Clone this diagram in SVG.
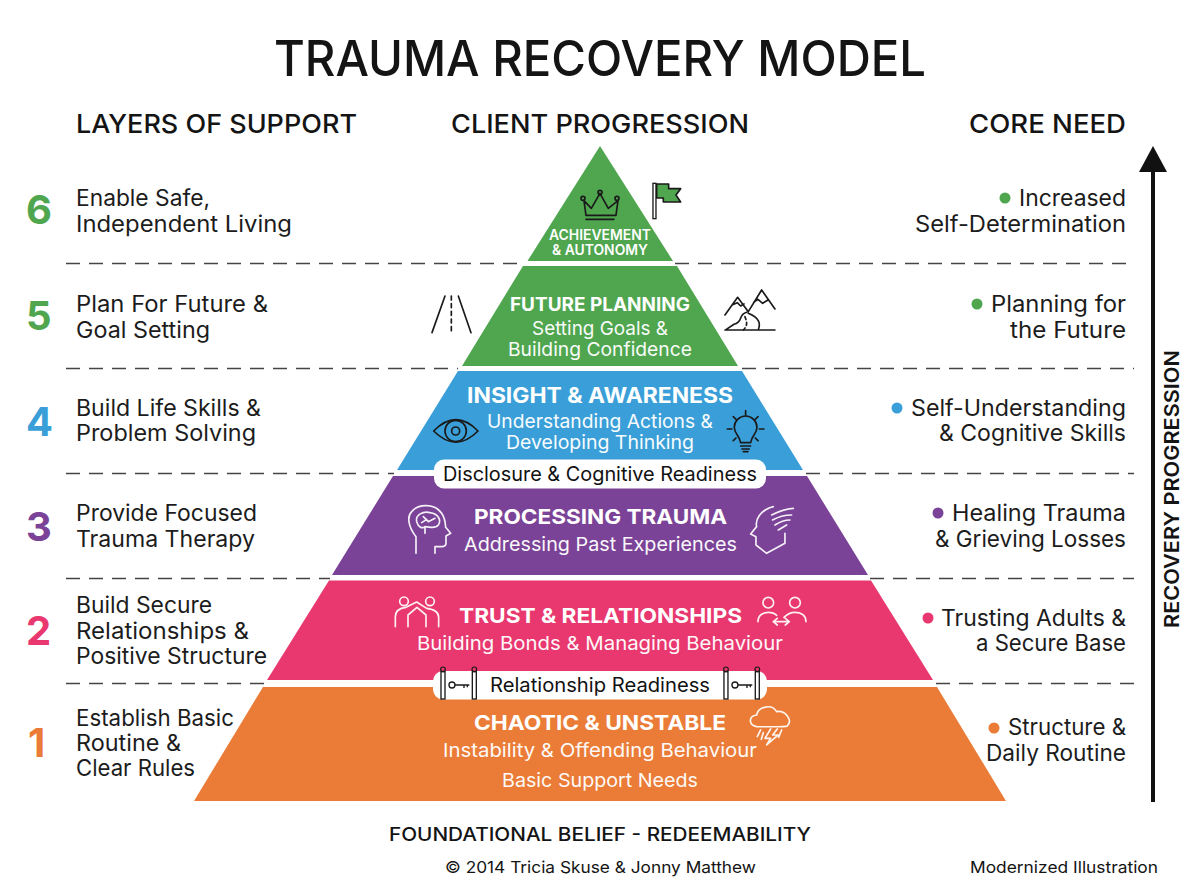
<svg xmlns="http://www.w3.org/2000/svg" width="1200" height="896" viewBox="0 0 1200 896">
<style>
text{font-family:"Inter","Open Sans","Liberation Sans",sans-serif;fill:#141414}
.h{font-size:26px;font-weight:500}
.l{font-size:22.5px;font-weight:400;fill:#1c1c1c}
.n{font-size:40px;font-weight:700}
.w{fill:#fff;font-size:19px;font-weight:400;opacity:.96}
.b{fill:#fff;font-weight:700;font-size:20.5px}
.p{font-size:19.5px;font-weight:400;fill:#111}
.d{stroke:#444;stroke-width:1.5;stroke-dasharray:14 9;fill:none}
.ic{fill:none;stroke:#1a1a1a;stroke-width:5;stroke-linecap:round;stroke-linejoin:round}
.iw{fill:none;stroke:#fff;stroke-width:5;stroke-linecap:round;stroke-linejoin:round;opacity:.92}
</style>
<defs>
<marker id="ah" viewBox="0 0 26 26" refX="13" refY="2" markerWidth="26" markerHeight="26" markerUnits="userSpaceOnUse" orient="auto-start-reverse"><path d="M13 0L26 26H0Z" fill="#111"/></marker>
</defs>
<rect width="1200" height="896" fill="#fff"/>
<g id="title">
<text x="274" y="76" font-size="50" font-weight="500" textLength="652" lengthAdjust="spacingAndGlyphs">TRAUMA RECOVERY MODEL</text>
<text class="h" x="76" y="133" textLength="281" lengthAdjust="spacingAndGlyphs">LAYERS OF SUPPORT</text>
<text class="h" x="451" y="133" textLength="298" lengthAdjust="spacingAndGlyphs">CLIENT PROGRESSION</text>
<text class="h" x="969" y="133" textLength="157" lengthAdjust="spacingAndGlyphs">CORE NEED</text>
</g>
<g id="connectors">
<path class="d" d="M66 263.500H526M675 263.500H1134M66 368.500H458M742 368.500H1134M66 473.500H394M806 473.500H1134M66 578.500H330M870 578.500H1134M66 683.500H264M936 683.500H1134"/>
<line x1="1153" y1="802" x2="1153" y2="170" stroke="#111" stroke-width="4"/>
<path d="M1153 146L1167 172H1139Z" fill="#111"/>
<text transform="translate(1179,628) rotate(-90)" font-size="20" font-weight="600" textLength="278" lengthAdjust="spacingAndGlyphs">RECOVERY PROGRESSION</text>
</g>
<g id="tier6">
<path d="M600 146L673 261H527.500Z" fill="#4fa64f"/>
<g transform="translate(400,140) scale(.3333)">
<path class="ic" d="M552 182L558 226H648L654 182L625 205L600 160L574 205ZM558 238H642"/>
<circle class="ic" cx="549" cy="175" r="6"/><circle class="ic" cx="600" cy="157" r="6"/><circle class="ic" cx="651" cy="175" r="6"/>
<path d="M770 132H806V146H842L828 165L842 186H790V174H770Z" fill="#4fa64f" stroke="#1a1a1a" stroke-width="5" stroke-linejoin="round"/>
<rect x="759" y="130" width="9" height="106" fill="#fff" stroke="#1a1a1a" stroke-width="4"/>
</g>
<text class="b" style="font-size:14px;font-weight:600" x="549" y="240" textLength="102" lengthAdjust="spacingAndGlyphs">ACHIEVEMENT</text>
<text class="b" style="font-size:14px;font-weight:600" x="552" y="255" textLength="96" lengthAdjust="spacingAndGlyphs">&amp; AUTONOMY</text>
</g>
<g id="tier5">
<path d="M523 266H677L738 366H462Z" fill="#4fa64f"/>
<g transform="translate(400,140) scale(.3333)">
<path class="ic" d="M135 468L96 578M175 468L213 578"/>
<path class="ic" stroke-dasharray="12 11" stroke-linecap="butt" d="M154 468V578"/>
<path class="ic" d="M975 525L1013 472L1045 515L1085 450L1125 507M998 494L1012 488L1022 498L1032 492M1062 486L1074 478L1088 490L1104 480M975 570H1125M1040 517C1012 525 1032 545 1002 553L978 569M1045 520C1080 535 1082 550 1075 570"/>
<path class="ic" stroke-dasharray="9 9" stroke-width="4" d="M1035 530C1040 545 1045 555 1030 570"/>
</g>
<text class="b" style="font-size:18.500px" x="510" y="311" textLength="180" lengthAdjust="spacingAndGlyphs">FUTURE PLANNING</text>
<text class="w" x="532" y="335" textLength="136" lengthAdjust="spacingAndGlyphs">Setting Goals &amp;</text>
<text class="w" x="508" y="356" textLength="184" lengthAdjust="spacingAndGlyphs">Building Confidence</text>
</g>
<g id="tier4">
<path d="M458 371H742L803 470H397Z" fill="#3a9fd8"/>
<g transform="translate(380,370) scale(.3333)">
<path class="ic" d="M161 183Q228 115 294 183Q228 250 161 183Z"/>
<circle class="ic" cx="227" cy="183" r="32"/><circle class="ic" cx="227" cy="183" r="12"/>
<path class="ic" d="M1082 218C1078 195 1063 192 1063 172A34 34 0 0 1 1131 172C1131 192 1116 195 1112 218ZM1082 228H1112M1086 237H1108M1090 245H1104M1097 122V138M1060 140L1070 150M1134 140L1124 150M1042 177H1056M1138 177H1152M1060 212L1068 204M1134 212L1126 204"/>
</g>
<text class="b" x="467" y="403" style="font-size:21px" textLength="266" lengthAdjust="spacingAndGlyphs">INSIGHT &amp; AWARENESS</text>
<text class="w" x="487" y="428" textLength="226" lengthAdjust="spacingAndGlyphs">Understanding Actions &amp;</text>
<text class="w" x="506" y="449" textLength="188" lengthAdjust="spacingAndGlyphs">Developing Thinking</text>
</g>
<g id="tier3">
<path d="M393 476H807L868 575H332Z" fill="#7b4397"/>
<g transform="translate(380,370) scale(.3333)">
<path class="iw" d="M108 550V500C85 470 80 440 95 425C115 400 165 400 185 430C197 448 196 465 197 472L212 490L198 498V520C198 532 185 530 165 530V550"/>
<path class="iw" stroke-width="3.500" d="M110 455C105 435 130 422 150 428C175 432 185 450 175 465C165 478 150 470 135 470C125 478 115 470 110 455ZM130 440L145 455L165 445M125 458L140 448M135 470V490"/>
<path class="iw" d="M1180 410C1140 420 1125 450 1130 470L1112 492L1128 500V525L1160 550L1215 520V490"/>
<path class="iw" stroke-width="3.500" d="M1175 435C1195 425 1215 415 1240 415M1178 450C1195 440 1215 435 1235 435M1185 465C1200 455 1215 450 1230 450M1195 480L1220 465"/>
</g>
<text class="b" x="474" y="524" textLength="253" lengthAdjust="spacingAndGlyphs">PROCESSING TRAUMA</text>
<text class="w" x="464" y="551" textLength="273" lengthAdjust="spacingAndGlyphs">Addressing Past Experiences</text>
</g>
<g id="tier2">
<path d="M329 580.500H871L933 680H267Z" fill="#e8386f"/>
<g transform="translate(380,580) scale(.3333)">
<circle class="iw" cx="72" cy="64" r="13"/><circle class="iw" cx="150" cy="64" r="13"/>
<path class="iw" d="M46 140V110C46 92 60 84 78 82L110 66L140 85C165 88 176 98 176 112V140M84 140V105L111 82L138 105V140"/>
<circle class="iw" cx="1165" cy="68" r="16"/><circle class="iw" cx="1245" cy="68" r="16"/>
<path class="iw" d="M1134 125C1134 105 1150 97 1165 97C1175 97 1184 100 1190 106M1278 125C1278 105 1262 97 1245 97C1232 97 1222 102 1212 112M1182 125H1226M1192 115L1180 125L1192 135M1216 115L1228 125L1216 135"/>
</g>
<text class="b" x="459" y="623" textLength="283" lengthAdjust="spacingAndGlyphs">TRUST &amp; RELATIONSHIPS</text>
<text class="w" x="417" y="650" textLength="366" lengthAdjust="spacingAndGlyphs">Building Bonds &amp; Managing Behaviour</text>
</g>
<g id="tier1">
<path d="M263 687H937L1006 801H194Z" fill="#ea7c37"/>
<g transform="translate(380,580) scale(.3333)">
<path class="iw" d="M1130 440C1105 435 1105 408 1130 405C1135 380 1175 370 1190 395C1215 390 1240 420 1222 438C1215 442 1150 440 1130 440Z"/>
<path class="iw" stroke-width="4" d="M1172 447L1155 475H1172L1160 495L1195 465H1178L1192 447M1142 450L1132 470M1150 458L1144 478M1205 450L1196 472"/>
</g>
<text class="b" x="474" y="730" textLength="252" lengthAdjust="spacingAndGlyphs">CHAOTIC &amp; UNSTABLE</text>
<text class="w" x="443" y="757" textLength="314" lengthAdjust="spacingAndGlyphs">Instability &amp; Offending Behaviour</text>
<text class="w" x="502" y="787" textLength="196" lengthAdjust="spacingAndGlyphs">Basic Support Needs</text>
</g>
<g id="gate-disclosure">
<rect x="434" y="459.500" width="332" height="29" rx="10" fill="#fff"/>
<text class="p" x="443" y="481" textLength="314" lengthAdjust="spacingAndGlyphs">Disclosure &amp; Cognitive Readiness</text>
</g>
<g id="gate-relationship">
<rect x="433" y="671" width="334" height="28.500" rx="10" fill="#fff"/>
<text class="p" x="490" y="692" textLength="220" lengthAdjust="spacingAndGlyphs">Relationship Readiness</text>
<g transform="translate(380,580) scale(.3333)">
<g id="key">
<rect x="183" y="275" width="12" height="82" fill="#fff" stroke="#1a1a1a" stroke-width="4"/>
<rect x="277" y="275" width="12" height="82" fill="#fff" stroke="#1a1a1a" stroke-width="4"/>
<circle cx="189" cy="268" r="7" fill="#e8386f" stroke="#1a1a1a" stroke-width="3.500"/>
<circle cx="283" cy="268" r="7" fill="#e8386f" stroke="#1a1a1a" stroke-width="3.500"/>
<circle cx="216" cy="315" r="9" fill="none" stroke="#1a1a1a" stroke-width="4"/>
<path d="M225 315H268M252 315V324M262 315V322" fill="none" stroke="#1a1a1a" stroke-width="4"/>
</g>
<g transform="translate(849,0)">
<rect x="183" y="275" width="12" height="82" fill="#fff" stroke="#1a1a1a" stroke-width="4"/>
<rect x="277" y="275" width="12" height="82" fill="#fff" stroke="#1a1a1a" stroke-width="4"/>
<circle cx="189" cy="268" r="7" fill="#e8386f" stroke="#1a1a1a" stroke-width="3.500"/>
<circle cx="283" cy="268" r="7" fill="#e8386f" stroke="#1a1a1a" stroke-width="3.500"/>
<circle cx="216" cy="315" r="9" fill="none" stroke="#1a1a1a" stroke-width="4"/>
<path d="M225 315H268M252 315V324M262 315V322" fill="none" stroke="#1a1a1a" stroke-width="4"/>
</g>
</g>
</g>
<g id="layers">
<g id="layer6"><text class="n" x="26" y="224" fill="#4fa64f" style="fill:#4fa64f">6</text>
<text class="l" x="76" y="206" textLength="134" lengthAdjust="spacingAndGlyphs">Enable Safe,</text><text class="l" x="76" y="232" textLength="216" lengthAdjust="spacingAndGlyphs">Independent Living</text></g>
<g id="layer5"><text class="n" x="26" y="330" style="fill:#4fa64f">5</text>
<text class="l" x="76" y="312" textLength="192" lengthAdjust="spacingAndGlyphs">Plan For Future &amp;</text><text class="l" x="76" y="338" textLength="134" lengthAdjust="spacingAndGlyphs">Goal Setting</text></g>
<g id="layer4"><text class="n" x="26" y="436" style="fill:#3a9fd8">4</text>
<text class="l" x="76" y="416" textLength="185" lengthAdjust="spacingAndGlyphs">Build Life Skills &amp;</text><text class="l" x="76" y="441" textLength="180" lengthAdjust="spacingAndGlyphs">Problem Solving</text></g>
<g id="layer3"><text class="n" x="26" y="541" style="fill:#7b4397">3</text>
<text class="l" x="76" y="521" textLength="181" lengthAdjust="spacingAndGlyphs">Provide Focused</text><text class="l" x="76" y="547" textLength="179" lengthAdjust="spacingAndGlyphs">Trauma Therapy</text></g>
<g id="layer2"><text class="n" x="26" y="645" style="fill:#e8386f">2</text>
<text class="l" x="76" y="613" textLength="136" lengthAdjust="spacingAndGlyphs">Build Secure</text><text class="l" x="76" y="639" textLength="173" lengthAdjust="spacingAndGlyphs">Relationships &amp;</text><text class="l" x="76" y="664" textLength="191" lengthAdjust="spacingAndGlyphs">Positive Structure</text></g>
<g id="layer1"><text class="n" x="28" y="757" style="fill:#ea7c37">1</text>
<text class="l" x="76" y="726" textLength="158" lengthAdjust="spacingAndGlyphs">Establish Basic</text><text class="l" x="76" y="751" textLength="105" lengthAdjust="spacingAndGlyphs">Routine &amp;</text><text class="l" x="76" y="776" textLength="119" lengthAdjust="spacingAndGlyphs">Clear Rules</text></g>
</g>
<g id="needs">
<g id="need6"><circle cx="1005" cy="198" r="5.500" fill="#4fa64f"/><text class="l" x="1019" y="206" textLength="107" lengthAdjust="spacingAndGlyphs">Increased</text><text class="l" x="915" y="232" textLength="211" lengthAdjust="spacingAndGlyphs">Self-Determination</text></g>
<g id="need5"><circle cx="977" cy="304" r="5.500" fill="#4fa64f"/><text class="l" x="991" y="312" textLength="135" lengthAdjust="spacingAndGlyphs">Planning for</text><text class="l" x="1010" y="338" textLength="116" lengthAdjust="spacingAndGlyphs">the Future</text></g>
<g id="need4"><circle cx="897" cy="408" r="5.500" fill="#3a9fd8"/><text class="l" x="911" y="416" textLength="215" lengthAdjust="spacingAndGlyphs">Self-Understanding</text><text class="l" x="939" y="441" textLength="187" lengthAdjust="spacingAndGlyphs">&amp; Cognitive Skills</text></g>
<g id="need3"><circle cx="938" cy="513" r="5.500" fill="#7b4397"/><text class="l" x="952" y="521" textLength="174" lengthAdjust="spacingAndGlyphs">Healing Trauma</text><text class="l" x="935" y="547" textLength="191" lengthAdjust="spacingAndGlyphs">&amp; Grieving Losses</text></g>
<g id="need2"><circle cx="928" cy="618" r="5.500" fill="#e8386f"/><text class="l" x="941" y="626" textLength="185" lengthAdjust="spacingAndGlyphs">Trusting Adults &amp;</text><text class="l" x="976" y="651" textLength="150" lengthAdjust="spacingAndGlyphs">a Secure Base</text></g>
<g id="need1"><circle cx="994" cy="728" r="5.500" fill="#ea7c37"/><text class="l" x="1008" y="735" textLength="118" lengthAdjust="spacingAndGlyphs">Structure &amp;</text><text class="l" x="986" y="761" textLength="140" lengthAdjust="spacingAndGlyphs">Daily Routine</text></g>
</g>
<g id="footer">
<text x="389" y="841" font-size="19" font-weight="500" textLength="422" lengthAdjust="spacingAndGlyphs">FOUNDATIONAL BELIEF - REDEEMABILITY</text>
<text x="445" y="873" font-size="16.500" textLength="311" lengthAdjust="spacingAndGlyphs">© 2014 Tricia Skuse &amp; Jonny Matthew</text>
<text x="970" y="873" font-size="16.500" textLength="188" lengthAdjust="spacingAndGlyphs">Modernized Illustration</text>
</g>
</svg>
